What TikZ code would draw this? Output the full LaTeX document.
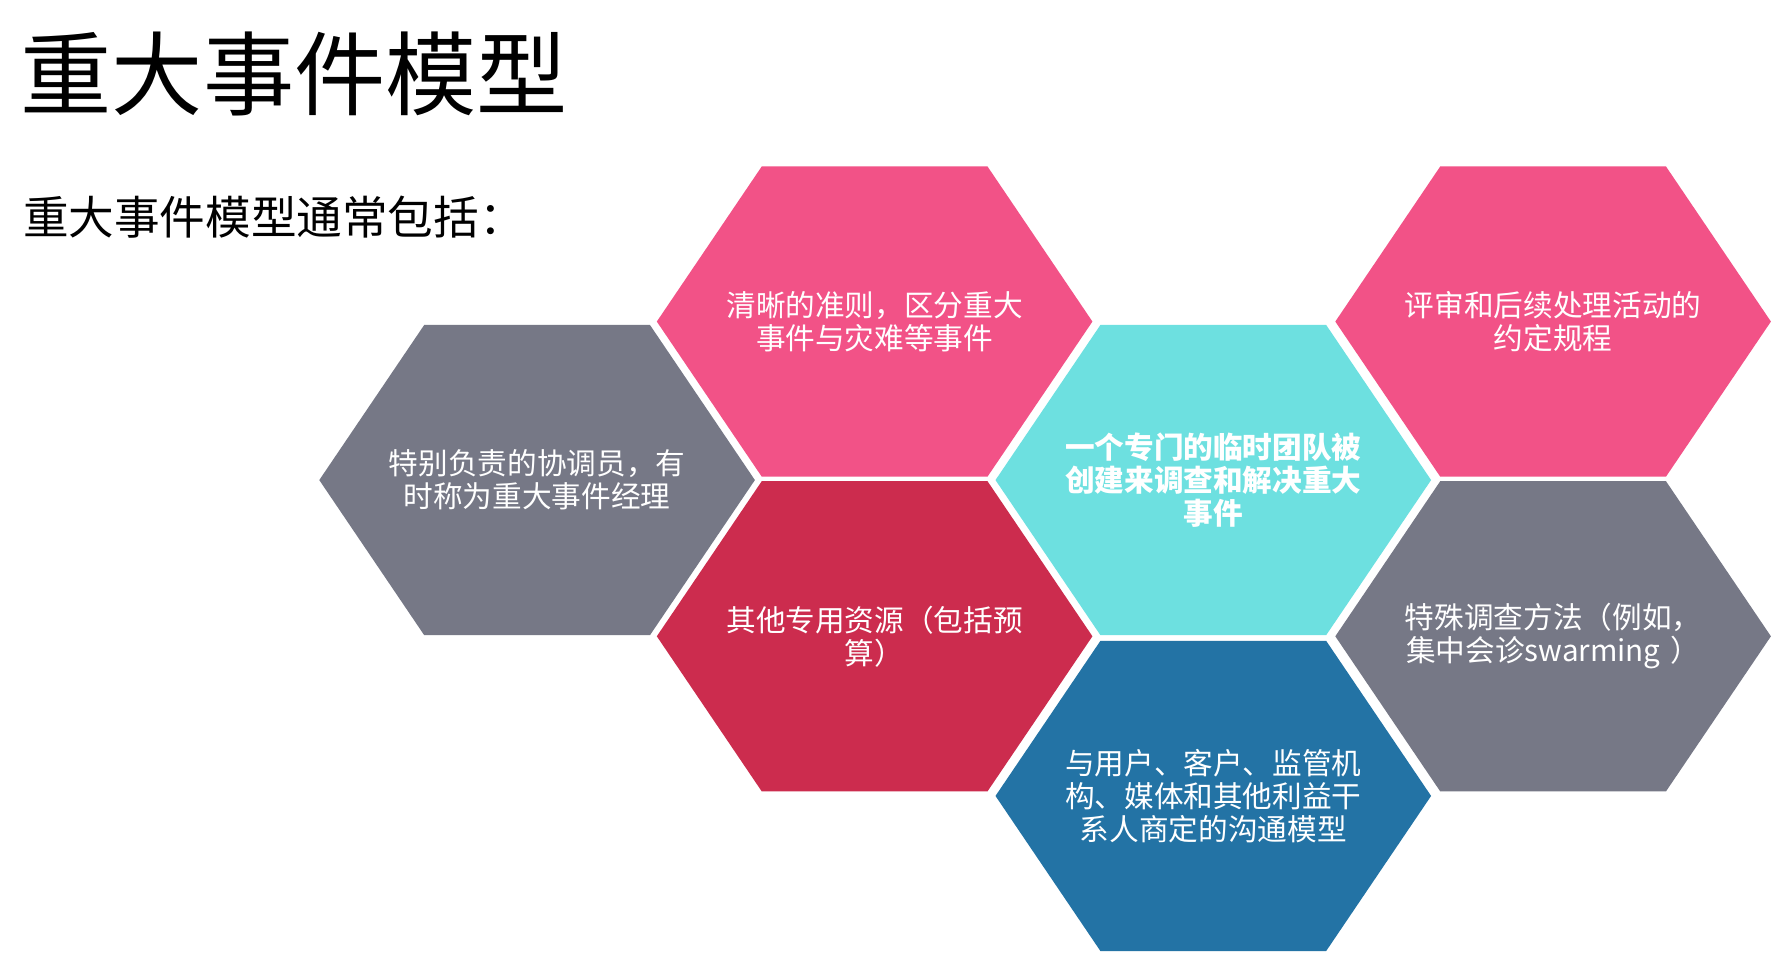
\documentclass[tikz,border=0pt]{standalone}
\usepackage{fontspec}
\setmainfont{Noto Sans CJK SC}
\begin{document}
\begin{tikzpicture}[x=1pt,y=-1pt,
  hextext/.style={text=white,align=center,text width=300pt,font=\fontsize{26}{29}\selectfont,inner sep=0pt}]
\definecolor{hpink}{HTML}{F25287}
\definecolor{hgray}{HTML}{767886}
\definecolor{hred}{HTML}{CC2C4E}
\definecolor{hcyan}{HTML}{6DE0E0}
\definecolor{hblue}{HTML}{2373A5}
\useasboundingbox[fill=white] (0,0) rectangle (1568,845);
\newcommand{\hexa}[5]{%
  \fill[#4] (#2-191,#3) -- (#2-99,#3-136) -- (#2+99,#3-136) -- (#2+191,#3) -- (#2+99,#3+136) -- (#2-99,#3+136) -- cycle;
  \node[hextext] (#1) at (#2,#3) {#5};}
\node[anchor=west,font=\fontsize{80}{80}\selectfont,inner sep=0pt] (title) at (18,65) {重大事件模型};
\node[anchor=west,font=\fontsize{40}{40}\selectfont,inner sep=0pt] (sub) at (20,190) {重大事件模型通常包括：};
\hexa{h1}{471}{421}{hgray}{特别负责的协调员，有\\时称为重大事件经理}
\hexa{h2}{767}{282}{hpink}{清晰的准则，区分重大\\事件与灾难等事件}
\hexa{h3}{767}{558}{hred}{其他专用资源（包括预\\算）}
\hexa{h4}{1064}{421}{hcyan}{\textbf{一个专门的临时团队被}\\\textbf{创建来调查和解决重大}\\\textbf{事件}}
\hexa{h5}{1064}{698}{hblue}{与用户、客户、监管机\\构、媒体和其他利益干\\系人商定的沟通模型}
\hexa{h6}{1362}{282}{hpink}{评审和后续处理活动的\\约定规程}
\hexa{h7}{1362}{558}{hgray}{特殊调查方法（例如，\\集中会诊swarming ）}
\end{tikzpicture}
\end{document}
